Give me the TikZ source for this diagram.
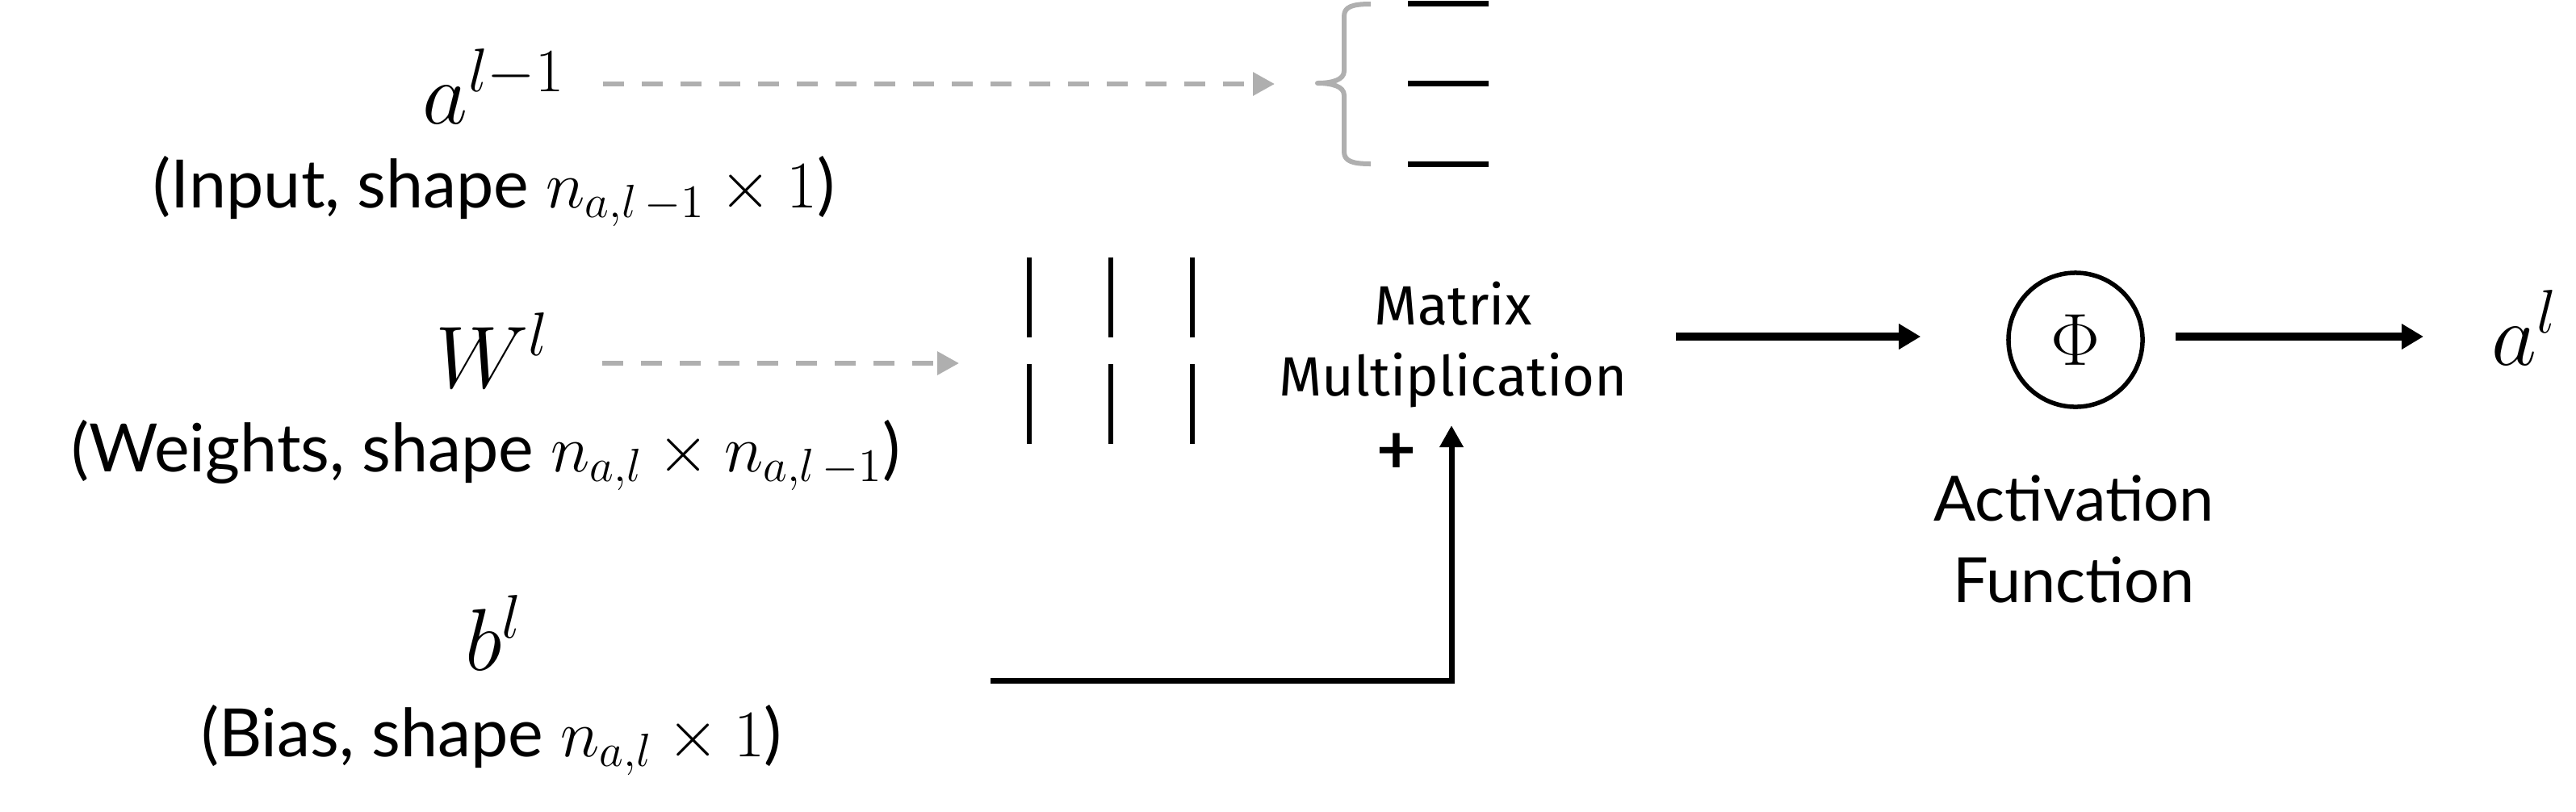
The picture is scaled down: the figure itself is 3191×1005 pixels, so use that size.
\documentclass[tikz,border=0pt]{standalone}
\usepackage{fix-cm}
\usepackage{fontspec}
\setmainfont{Lato}
\newfontfamily\mmfont{Fira Sans}
\usetikzlibrary{arrows.meta,calc}
\definecolor{lgray}{HTML}{AFAFAF}
\begin{document}
\begin{tikzpicture}[x=0.01cm,y=-0.01cm,
  mathlbl/.style={inner sep=0,font=\fontsize{31}{36}\selectfont},
  sublbl/.style={inner sep=0,font=\fontsize{23.5}{28}\selectfont},
  mmlbl/.style={inner sep=0,align=center,font=\mmfont\fontsize{19.5}{25}\selectfont},
  actlbl/.style={inner sep=0,align=center,font=\fontsize{22}{28.5}\selectfont},
  dasharrow/.style={draw=lgray,line width=0.06cm,dash pattern=on 0.26cm off 0.22cm,
    -{Triangle[length=0.27cm,width=0.28cm]}},
  blkarrow/.style={draw=black,line width=0.10cm,-{Triangle[length=0.27cm,width=0.30cm]}},
  biasarrow/.style={draw=black,line width=0.07cm,-{Triangle[length=0.27cm,width=0.28cm]}},
  brace/.style={draw=lgray,line width=0.06cm,line join=round},
  bar/.style={draw=black,line width=0.07cm}]
\useasboundingbox (0,0) rectangle (3191,1005);

% left labels
\node[mathlbl,anchor=base] (al1) at (612,153) {$a^{l-1}$};
\node[sublbl,anchor=base] (inlbl) at (612,257) {(Input, shape $n_{a,l\,-1}\times 1$)};
\node[mathlbl,anchor=base] (wl) at (610,480) {$W^{l}$};
\node[sublbl,anchor=base] (wlbl) at (602,584) {(Weights, shape $n_{a,l}\times n_{a,l\,-1}$)};
\node[mathlbl,anchor=base] (bl) at (612,830) {$b^{l}$};
\node[sublbl,anchor=base] (blbl) at (609,937) {(Bias, shape $n_{a,l}\times 1$)};

% brace and vector bars
\draw[brace] (1698,5) .. controls (1676,5) and (1665,8) .. (1665,20) -- (1665,88)
  .. controls (1665,99) and (1650,103) .. (1632,103)
  .. controls (1650,103) and (1665,107) .. (1665,118) -- (1665,188)
  .. controls (1665,200) and (1676,203) .. (1698,203);
\foreach \yy in {4,103,203} \draw[bar] (1744,\yy) -- (1844,\yy);

% matrix bars
\foreach \xx in {1275,1376,1477} {
  \draw[bar,line width=0.065cm] (\xx,319) -- (\xx,418);
  \draw[bar,line width=0.065cm] (\xx,451) -- (\xx,550);
}

% matrix multiplication
\node[mmlbl] (mm) at (1800,427) {Matrix\\Multiplication};
\node[inner sep=0,font=\bfseries\fontsize{24}{28}\selectfont] (plus) at (1730,562) {+};

% activation
\node[circle,draw,line width=0.055cm,minimum size=1.66cm,inner sep=0] (phi) at (2571,421)
  {\fontsize{26}{30}\selectfont$\Phi$};
\node[actlbl] (act) at (2569,668) {Activation\\Function};
\node[mathlbl,anchor=base west] (al) at (3086,452) {$a^{l}$};

% connector ends
\coordinate (d1s) at (747,104);
\coordinate (d1e) at (1579,104);
\coordinate (d2s) at (746,450);
\coordinate (d2e) at (1188,450);
\coordinate (bs) at (1227,843);
\coordinate (mmin) at (1798,527);
\coordinate (mmout) at (2076,417);
\coordinate (phiin) at ($(phi.west)+(-106,-4)$);
\coordinate (phiout) at ($(phi.east)+(38,-4)$);
\coordinate (alin) at (3002,417);

\draw[dasharrow] (d1s) -- (d1e);
\draw[dasharrow] (d2s) -- (d2e);
\draw[biasarrow] (bs) -| (mmin);
\draw[blkarrow] (mmout) -- (phiin);
\draw[blkarrow] (phiout) -- (alin);
\end{tikzpicture}
\end{document}
